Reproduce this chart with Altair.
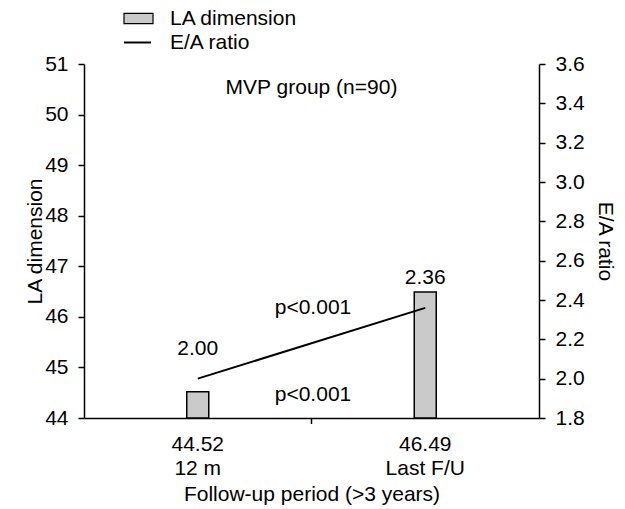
import altair as alt
import pandas as pd

# ---- data ----
periods = ["12 m", "Last F/U"]
la_dimension = [44.52, 46.49]
ea_ratio = [2.00, 2.36]
la_labels = ["44.52", "46.49"]
ea_labels = ["2.00", "2.36"]
la_ticks = [44, 45, 46, 47, 48, 49, 50, 51]
ea_ticks = [1.8, 2.0, 2.2, 2.4, 2.6, 2.8, 3.0, 3.2, 3.4, 3.6]
group_text = ["MVP group (n=90)"]
p_upper = ["p<0.001"]
p_lower = ["p<0.001"]

FONT = "Liberation Sans"
FS = 21
W, H = 455, 354

df = pd.DataFrame({
    "period": periods,
    "la": la_dimension,
    "ea": ea_ratio,
    "ea_label": ea_labels,
    "bar_series": ["LA dimension"] * len(periods),
    "line_series": ["E/A ratio"] * len(periods),
})

# two-line x labels: value on top, period below
expr = "''"
for p, l in reversed(list(zip(periods, la_labels))):
    expr = f"datum.value == '{p}' ? ['{l}', '{p}'] : {expr}"

x_enc = alt.X(
    "period:N", sort=periods,
    scale=alt.Scale(paddingInner=0, paddingOuter=0),
    axis=alt.Axis(title="Follow-up period (>3 years)", labelExpr=expr, labelAngle=0,
                  ticks=False, labelPadding=15, labelLineHeight=24, titlePadding=5),
)

bars = alt.Chart(df).mark_bar(size=22, stroke="black", strokeWidth=1.5).encode(
    x=x_enc,
    y=alt.Y("la:Q", scale=alt.Scale(domain=[44, 51], zero=False, nice=False),
            axis=alt.Axis(title="LA dimension", orient="left", values=la_ticks,
                          labelPadding=10, titlePadding=-1)),
    y2=alt.datum(44),
    fill=alt.Fill("bar_series:N", scale=alt.Scale(range=["#cacaca"]),
                  legend=alt.Legend(title=None, orient="none", legendX=39, legendY=-61,
                                    symbolType="M-1,-0.35H1V0.35H-1Z", symbolSize=841,
                                    symbolStrokeColor="black", symbolStrokeWidth=1.2,
                                    symbolOpacity=1, labelOffset=16, padding=0)),
)

ea_y = alt.Y("ea:Q", scale=alt.Scale(domain=[1.8, 3.6], zero=False, nice=False),
             axis=alt.Axis(title="E/A ratio", orient="right", values=ea_ticks, format=".1f",
                           labelPadding=10, titlePadding=10))

line = alt.Chart(df).mark_line(strokeWidth=2).encode(
    x=x_enc, y=ea_y,
    stroke=alt.Stroke("line_series:N", scale=alt.Scale(range=["black"]),
                      legend=alt.Legend(title=None, orient="none", legendX=39, legendY=-36,
                                        symbolType="stroke", symbolSize=729,
                                        symbolStrokeWidth=2, labelOffset=18, padding=0)),
)

ea_text = alt.Chart(df).mark_text(font=FONT, fontSize=FS, dy=-30, color="black").encode(
    x=x_enc, y=ea_y, text="ea_label:N")

def note(txt, xpos, ypos):
    return alt.Chart(pd.DataFrame({"t": txt})).mark_text(
        font=FONT, fontSize=FS, color="black").encode(
        text="t:N", x=alt.value(xpos), y=alt.value(ypos))

group_note = note(group_text, W / 2, 24)
p_up = note(p_upper, 229, 244)
p_low = note(p_lower, 229, 331)

mid_tick = alt.Chart(pd.DataFrame({"a": [0]})).mark_rule(color="black", strokeWidth=1.5).encode(
    x=alt.value(W / 2), y=alt.value(H), y2=alt.value(H + 6))

right = alt.layer(line, ea_text, group_note, p_up, p_low, mid_tick)

chart = alt.layer(bars, right).resolve_scale(y="independent").properties(
    width=W, height=H,
    padding={"left": 84, "top": 64, "right": 86, "bottom": 91},
    autosize=alt.AutoSizeParams(type="none"),
).configure_view(stroke=None).configure_axis(
    labelFont=FONT, labelFontSize=FS, titleFont=FONT, titleFontSize=FS,
    titleFontWeight="normal", labelColor="black", titleColor="black",
    domainColor="black", tickColor="black", domainWidth=1.5, tickWidth=1.5,
    tickSize=6, grid=False,
).configure_legend(
    labelFont=FONT, labelFontSize=FS, labelColor="black",
)

chart.save("out.html", embed_options={"renderer": "svg", "actions": False})
